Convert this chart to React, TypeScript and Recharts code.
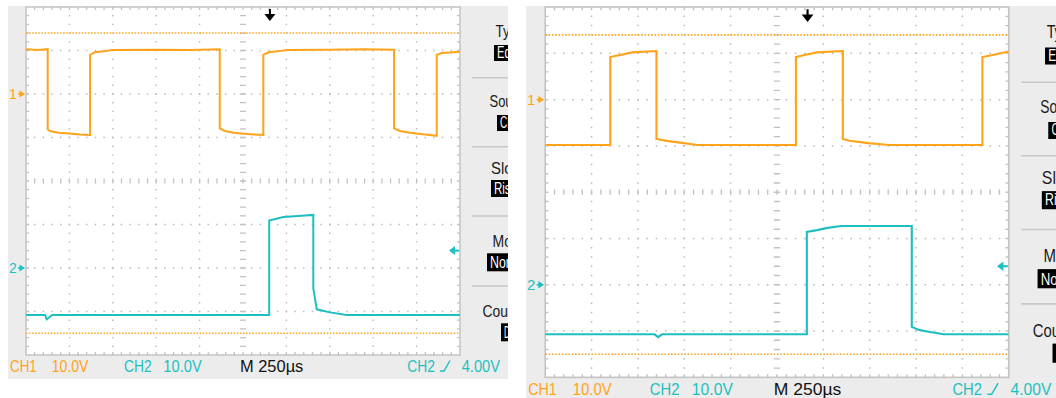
import { LineChart, Line, XAxis, YAxis, ReferenceLine, ReferenceDot } from 'recharts';

const CH1_COLOR = '#ffa31a';
const CH2_COLOR = '#1ebfc0';

// scope settings
const VOLTS_PER_DIV = 10;
const CH1_POS = 2; // divisions above screen centre
const CH2_POS = -2;
const TRIG_LEVEL = 4.0;
const CURSOR_V = [14, -55];
const TIME_SPAN = [-1250, 1250]; // µs, 250 µs/div

// first capture (left)
const A_CH1_T = [-1250, -1180, -1125, -1125, -1112, -1064, -1016, -939, -881, -881, -853, -800, -756, -500, -300, -134, -134, -104, -56, 59, 117, 117, 146, 200, 255, 500, 700, 870, 870, 904, 962, 1048, 1116, 1116, 1145, 1250];
const A_CH1_V = [10.3, 10.1, 10.3, -8.1, -8.5, -8.9, -9.0, -9.3, -9.4, 9.0, 9.6, 9.8, 10.1, 10.2, 10.1, 10.3, -7.9, -8.5, -8.9, -9.3, -9.4, 9.0, 9.6, 9.8, 10.1, 10.2, 10.3, 10.2, -7.9, -8.5, -8.9, -9.3, -9.6, 9.0, 9.4, 9.7];
const A_CH2_T = [-1250, -1140, -1131, -1112, -1100, 151, 151, 232, 338, 405, 405, 425, 501, 597, 1250];
const A_CH2_V = [-10.8, -10.8, -11.8, -11.2, -10.8, -10.8, 10.9, 11.7, 12.0, 12.2, -4.7, -9.5, -10.2, -10.8, -10.8];
const A_TRIG_T = 155;

// second capture (right)
const B_CH1_T = [-1250, -899, -899, -853, -780, -650, -650, -595, -503, -429, 102, 102, 143, 216, 355, 355, 392, 493, 604, 1108, 1108, 1157, 1250];
const B_CH1_V = [-9.8, -9.8, 9.2, 9.6, 10.2, 10.5, -8.5, -8.9, -9.4, -9.8, -9.8, 9.2, 9.6, 10.2, 10.5, -8.5, -8.9, -9.4, -9.8, -9.8, 9.2, 9.6, 10.4];
const B_CH2_T = [-1250, -660, -641, -620, 161, 161, 216, 272, 346, 727, 727, 770, 825, 899, 1250];
const B_CH2_V = [-10.7, -10.7, -11.3, -10.7, -10.7, 11.4, 11.8, 12.3, 12.7, 12.7, -9.1, -9.8, -10.2, -10.7, -10.7];
const B_TRIG_T = 165;

const STATUS_LABELS = ['CH1', '10.0V', 'CH2', '10.0V', 'M 250\u00b5s', 'CH2', '4.00V'];
const MENU_TITLES = ['Type', 'Source', 'Slope', 'Mode', 'Coupling'];
const MENU_VALUES = ['Edge', 'CH2', 'Rising', 'Normal', 'DC'];

const toTrace = (ts: number[], vs: number[], pos: number) =>
  ts.map((t, i) => ({ t, d: pos + vs[i] / VOLTS_PER_DIV }));

// panel geometry (left capture pixels)
const PW = 500;
const PH = 373;
const GX = 18;
const GY = 1;
const GW = 434;
const GH = 348;
const DX = GW / 10;
const DY = GH / 8;
const FONT = "'Liberation Sans', Arial, sans-serif";

function Graticule() {
  let dots: JSX.Element[] = [];
  for (let i = 1; i < 10; i++) {
    if (i === 5) continue;
    const x = GX + i * DX;
    dots.push(<line key={'v' + i} x1={x} x2={x} y1={GY} y2={GY + GH} stroke="#b8b8b8" strokeWidth={1.4} strokeDasharray={`1.4 ${DY / 5 - 1.4}`} strokeDashoffset={0.7} />);
  }
  for (let j = 1; j < 8; j++) {
    if (j === 4) continue;
    const y = GY + j * DY;
    dots.push(<line key={'h' + j} x1={GX} x2={GX + GW} y1={y} y2={y} stroke="#b8b8b8" strokeWidth={1.4} strokeDasharray={`1.4 ${DX / 5 - 1.4}`} strokeDashoffset={0.7} />);
  }
  let ticks = '';
  for (let k = 1; k < 50; k++) {
    const x = GX + (k * DX) / 5;
    ticks += `M${x},${GY}v3M${x},${GY + GH}v-3M${x},${GY + GH / 2 - 2.5}v5`;
  }
  for (let k = 1; k < 40; k++) {
    const y = GY + (k * DY) / 5;
    ticks += `M${GX},${y}h3M${GX + GW},${y}h-3M${GX + GW / 2 - 3},${y}h6`;
  }
  return (
    <g>
      <rect x={GX} y={GY} width={GW} height={GH} fill="#fff" stroke="#c4c4c4" strokeWidth={1.5} />
      {dots}
      <path d={ticks} stroke="#c2c2c2" strokeWidth={1.3} fill="none" />
    </g>
  );
}

function Menu() {
  const titleY = [30.5, 100.7, 167.5, 240.7, 310.7];
  const titleW = [29, 41, 38, 35, 55];
  const boxY = [39, 109, 174, 247.3, 317.3];
  const boxH = [16, 16, 17, 18, 18];
  const valW = [26, 20, 32, 40, 12];
  const sepY = [71.7, 140.7, 210, 280];
  const cx = 502;
  return (
    <g fontFamily={FONT}>
      {sepY.map((y, i) => (
        <line key={'s' + i} x1={463.7} x2={PW} y1={y} y2={y} stroke="#c8c8c8" strokeWidth={1.5} />
      ))}
      {MENU_TITLES.map((s, i) => (
        <text key={'t' + i} x={cx} y={titleY[i]} textAnchor="middle" fontSize={17} fill="#1a1a1a" textLength={titleW[i]} lengthAdjust="spacingAndGlyphs">{s}</text>
      ))}
      {MENU_VALUES.map((s, i) => (
        <g key={'b' + i}>
          <rect x={cx - valW[i] / 2 - 3} y={boxY[i]} width={valW[i] + 6} height={boxH[i]} fill="#000" />
          <text x={cx} y={boxY[i] + boxH[i] - 3.5} textAnchor="middle" fontSize={16} fill="#fff" textLength={valW[i]} lengthAdjust="spacingAndGlyphs">{s}</text>
        </g>
      ))}
    </g>
  );
}

function StatusLine() {
  const xs = [2, 43.7, 116, 155.3, 232, 399.3, 453.7];
  const ws = [26.7, 36.6, 27.7, 38.4, 63.3, 27.7, 38.3];
  const cs = [CH1_COLOR, CH1_COLOR, CH2_COLOR, CH2_COLOR, '#111', CH2_COLOR, CH2_COLOR];
  const base = 366;
  return (
    <g fontFamily={FONT} fontSize={16}>
      {STATUS_LABELS.map((s, i) => (
        <text key={i} x={xs[i]} y={base} fill={cs[i]} textLength={ws[i]} lengthAdjust="spacingAndGlyphs">{s}</text>
      ))}
      <path d={`M432,${base - 1}h4l6,-10.5`} stroke={CH2_COLOR} strokeWidth={1.4} fill="none" />
    </g>
  );
}

const groundMark = (label: string, color: string) => (p: any) => (
  <g>
    <text x={p.cx - 17} y={p.cy + 5} fill={color} fontSize={14} fontFamily={FONT}>{label}</text>
    <path d={`M${p.cx - 8},${p.cy}H${p.cx - 5}`} stroke={color} strokeWidth={1.5} />
    <path d={`M${p.cx - 1},${p.cy}L${p.cx - 6.5},${p.cy - 3.5}L${p.cx - 6.5},${p.cy + 3.5}Z`} fill={color} />
  </g>
);

const levelMark = (p: any) => (
  <g>
    <path d={`M${p.cx - 11},${p.cy}L${p.cx - 5},${p.cy - 4.5}L${p.cx - 5},${p.cy + 4.5}Z`} fill={CH2_COLOR} />
    <path d={`M${p.cx - 6},${p.cy}H${p.cx - 1}`} stroke={CH2_COLOR} strokeWidth={2} />
  </g>
);

const trigPosMark = (p: any) => (
  <g>
    <path d={`M${p.cx},${p.cy + 2}V${p.cy + 8}`} stroke="#000" strokeWidth={2} />
    <path d={`M${p.cx - 5.5},${p.cy + 7}L${p.cx + 5.5},${p.cy + 7}L${p.cx},${p.cy + 14}Z`} fill="#000" />
  </g>
);

function Scope({ left, top, sx, sy, ch1, ch2, trigT }: { left: number; top: number; sx: number; sy: number; ch1: any[]; ch2: any[]; trigT: number }) {
  return (
    <div style={{ position: 'absolute', left, top, width: PW, height: PH, background: '#ececec', overflow: 'hidden', transform: `scale(${sx},${sy})`, transformOrigin: '0 0' }}>
      <svg width={PW} height={PH} style={{ position: 'absolute', left: 0, top: 0 }}>
        <Graticule />
        <Menu />
        <StatusLine />
      </svg>
      <div style={{ position: 'absolute', left: 0, top: 0 }}>
        <LineChart width={PW} height={PH} margin={{ top: GY, right: PW - GX - GW, bottom: PH - GY - GH, left: GX }}>
          <XAxis type="number" dataKey="t" domain={TIME_SPAN} hide allowDataOverflow />
          <YAxis type="number" domain={[-4, 4]} hide allowDataOverflow />
          {CURSOR_V.map((v, i) => (
            <ReferenceLine key={i} y={CH1_POS + v / VOLTS_PER_DIV} stroke={CH1_COLOR} strokeWidth={1.5} strokeDasharray="1.5 1.6" />
          ))}
          <Line data={ch1} dataKey="d" type="linear" stroke={CH1_COLOR} strokeWidth={2} dot={false} isAnimationActive={false} />
          <Line data={ch2} dataKey="d" type="linear" stroke={CH2_COLOR} strokeWidth={2} dot={false} isAnimationActive={false} />
          <ReferenceDot x={TIME_SPAN[0]} y={CH1_POS} ifOverflow="visible" shape={groundMark('1', CH1_COLOR)} />
          <ReferenceDot x={TIME_SPAN[0]} y={CH2_POS} ifOverflow="visible" shape={groundMark('2', CH2_COLOR)} />
          <ReferenceDot x={TIME_SPAN[1]} y={CH2_POS + TRIG_LEVEL / VOLTS_PER_DIV} ifOverflow="visible" shape={levelMark} />
          <ReferenceDot x={trigT} y={4} ifOverflow="visible" shape={trigPosMark} />
        </LineChart>
      </div>
    </div>
  );
}

export default function App() {
  return (
    <div style={{ position: 'fixed', left: 0, top: 0, width: 1056, height: 398, background: '#fff', overflow: 'hidden' }}>
      <Scope left={8} top={6} sx={1} sy={1} ch1={toTrace(A_CH1_T, A_CH1_V, CH1_POS)} ch2={toTrace(A_CH2_T, A_CH2_V, CH2_POS)} trigT={A_TRIG_T} />
      <Scope left={526.4} top={6} sx={1.068} sy={1.064} ch1={toTrace(B_CH1_T, B_CH1_V, CH1_POS)} ch2={toTrace(B_CH2_T, B_CH2_V, CH2_POS)} trigT={B_TRIG_T} />
    </div>
  );
}
